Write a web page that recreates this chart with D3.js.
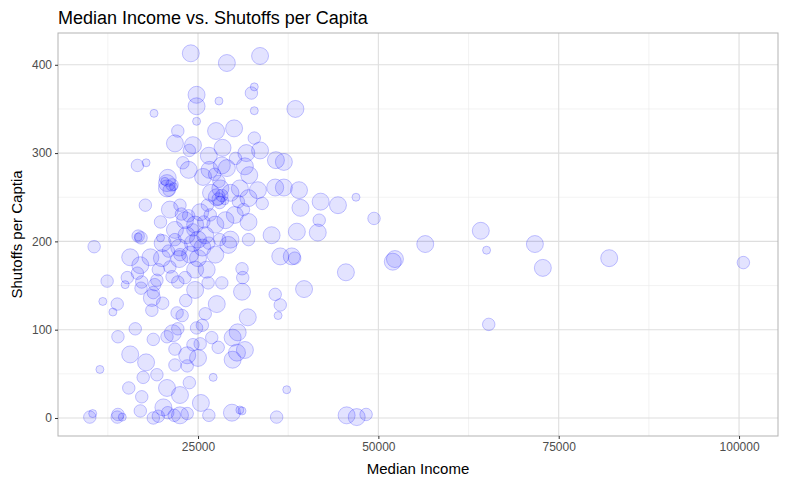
<!DOCTYPE html>
<html><head><meta charset="utf-8">
<script src="https://cdn.jsdelivr.net/npm/d3@7"></script>
<style>body{margin:0;background:#fff}</style></head>
<body><svg id="c" width="787" height="486"></svg>
<script>
const xTicks=[25000,50000,75000,100000];
const yTicks=[0,100,200,300,400];
// [median income, shutoffs per capita, size class]
const income=[],shutoffs=[],sizes=[];
const pts=[
[24000,413,3],[29000,402,3],[33600,410,3],[24800,366,3],[24800,353,3],[27900,359,1],[32400,368,2],[32800,375,1],[32800,348,1],[38500,350,3],[18900,345,1],[24800,336,1],
[22200,325,2],[21800,311,3],[27500,325,3],[30000,328,3],[32800,317,2],[24300,309,3],[23800,303,2],[28400,306,3],[33600,303,3],[26500,297,3],[31700,300,3],[35800,292,3],[36900,290,3],
[16600,286,2],[17800,289,1],[22900,289,2],[28300,286,3],[30200,294,2],[31500,285,3],[23700,281,3],[26600,281,3],[29000,283,3],[32100,275,3],[20800,272,3],[20700,266,3],[25700,273,3],
[26800,255,3],[28100,260,3],[27600,250,3],[29500,255,3],[30800,260,3],[32000,249,3],[33300,258,3],[35700,261,3],[36900,261,3],[39000,258,3],[39200,238,3],[42000,245,3],[44400,241,3],[46900,250,1],
[41600,210,3],[38700,211,3],[41800,224,2],[49400,226,2],
[20700,260,3],[21400,264,2],[17700,241,2],[19800,222,2],[21100,236,3],[22500,241,2],[23200,224,3],[24600,219,3],[21800,213,3],[25300,233,3],[26700,230,2],[27400,219,3],[28800,224,3],[30100,230,3],[32000,222,3],
[19800,204,1],[21800,202,2],[23400,207,3],[25000,202,3],[26000,207,3],[28000,202,2],[29500,202,3],[32000,202,2],[17100,204,2],[16700,205,1],
[56500,197,3],[64200,212,3],[65000,190,1],[71700,197,3],[72800,170,3],[82000,181,3],[100600,176,2],[52000,177,3],[52300,180,3],[45500,165,3],[65300,106,2],
[16700,206,2],[20100,198,3],[22400,193,3],[24300,198,3],[25600,193,3],[29200,196,3],[35200,207,3],[10600,194,2],[15600,182,3],[17000,173,3],[18400,182,3],[20000,181,3],[22400,180,3],[23900,185,3],[25000,181,3],[27400,185,3],
[36400,183,3],[38000,183,3],[38400,181,2],[16600,164,2],[19500,168,2],[21100,171,2],[24600,168,3],[26200,168,3],[31100,169,2],[31200,159,2],[12400,155,2],[15200,159,2],[14900,151,1],[17200,154,2],[19300,156,2],
[21400,160,2],[22200,154,2],[23200,159,2],[26400,153,2],[28300,153,2],[31100,143,3],[24600,145,3],[17100,147,2],[35700,140,2],[36400,128,2],[36100,116,1],[39700,146,3],[18800,142,2],[18600,136,3],[20100,130,2],
[11800,132,1],[13800,129,2],[13200,120,1],[18600,122,2],[27600,129,3],[22100,119,2],[22800,116,2],[31900,114,3],[16300,101,2],[13900,92,2],[18800,89,2],[21500,96,3],[20700,92,2],[24800,102,2],[25600,105,2],
[26900,91,2],[29800,91,3],[30500,97,3],[25300,84,2],[27800,80,2],[30400,74,3],[31500,77,3],[29800,66,3],[15600,72,3],[17800,63,3],[21800,78,2],[23500,71,3],[25000,68,3],[21800,60,2],[23500,59,2],
[11400,55,1],[17400,46,2],[19300,49,2],[27100,46,1],[37300,32,1],[15400,34,2],[20700,34,3],[22500,26,3],[23800,40,2],[17200,24,2],[25400,17,3],[17000,8,2],[29700,6,3],[31100,8,1],[20200,12,3],[20800,6,2],
[22500,3,3],[18800,0,2],[13800,1,2],[10000,1,2],[35900,1,2],[45600,3,3],[47000,1,3],[48300,4,2],[10400,5,1],[13900,4,2],[30800,9,1],[14500,1,1],[19500,2,2],[21700,3,2],[23500,5,2],[26500,3,2],
[27800,248,2],[28300,252,2],[28700,246,1],[28000,244,2],[22700,231,2],[23700,229,2],[24300,213,2],[25800,222,2],[26300,241,2],[21000,258,2],[21600,262,1],[20400,268,1],[30600,245,2],[31300,236,2],[33900,243,2],
[27300,276,2],[27900,268,2],[22500,185,2],[26500,198,2],[20900,189,2],[19000,151,2],[23300,133,2],[26000,118,2],[22200,101,2],[24300,83,2]
];
pts.forEach(p=>{income.push(p[0]);shutoffs.push(p[1]);sizes.push(p[2]);});

const svg=d3.select("#c");
const L=58,R=778,T=33,B=436;
const x=d3.scaleLinear().domain([5590,105400]).range([L,R]);
const y=d3.scaleLinear().domain([-20.4,436]).range([B,T]);
const r=d3.scaleLinear().domain([1,3]).range([4,8.5]);
const g=svg.append("g");
[12500,37500,62500,87500].forEach(v=>g.append("line").attr("x1",x(v)).attr("x2",x(v)).attr("y1",T).attr("y2",B).attr("stroke","#ebebeb").attr("stroke-width",0.6));
[50,150,250,350].forEach(v=>g.append("line").attr("y1",y(v)).attr("y2",y(v)).attr("x1",L).attr("x2",R).attr("stroke","#ebebeb").attr("stroke-width",0.6));
xTicks.forEach(v=>g.append("line").attr("x1",x(v)).attr("x2",x(v)).attr("y1",T).attr("y2",B).attr("stroke","#dedede").attr("stroke-width",1.1));
yTicks.forEach(v=>g.append("line").attr("y1",y(v)).attr("y2",y(v)).attr("x1",L).attr("x2",R).attr("stroke","#dedede").attr("stroke-width",1.1));
g.append("rect").attr("x",L).attr("y",T).attr("width",R-L).attr("height",B-T).attr("fill","none").attr("stroke","#b3b3b3");

svg.append("g").selectAll("circle").data(income).join("circle")
 .attr("cx",(d,i)=>x(d)).attr("cy",(d,i)=>y(shutoffs[i])).attr("r",(d,i)=>r(sizes[i]))
 .attr("fill","rgba(0,0,255,0.11)").attr("stroke","rgba(0,0,255,0.22)").attr("stroke-width",1);

const xa=svg.append("g").attr("transform",`translate(0,${B})`).call(d3.axisBottom(x).tickValues(xTicks).tickFormat(d3.format("d")).tickSize(3));
const ya=svg.append("g").attr("transform",`translate(${L},0)`).call(d3.axisLeft(y).tickValues(yTicks).tickSize(3));
[xa,ya].forEach(a=>{a.select(".domain").remove();a.selectAll("line").attr("stroke","#333");a.selectAll("text").attr("fill","#4d4d4d").style("font-family","Liberation Sans, Arial, sans-serif").style("font-size","12px");});
svg.append("text").attr("x",(L+R)/2).attr("y",474).attr("text-anchor","middle").style("font-family","Liberation Sans, Arial, sans-serif").style("font-size","15px").text("Median Income");
svg.append("text").attr("transform",`translate(22,${(T+B)/2}) rotate(-90)`).attr("text-anchor","middle").style("font-family","Liberation Sans, Arial, sans-serif").style("font-size","15px").text("Shutoffs per Captia");
svg.append("text").attr("x",L).attr("y",24).style("font-family","Liberation Sans, Arial, sans-serif").style("font-size","18px").text("Median Income vs. Shutoffs per Capita");
</script></body></html>
